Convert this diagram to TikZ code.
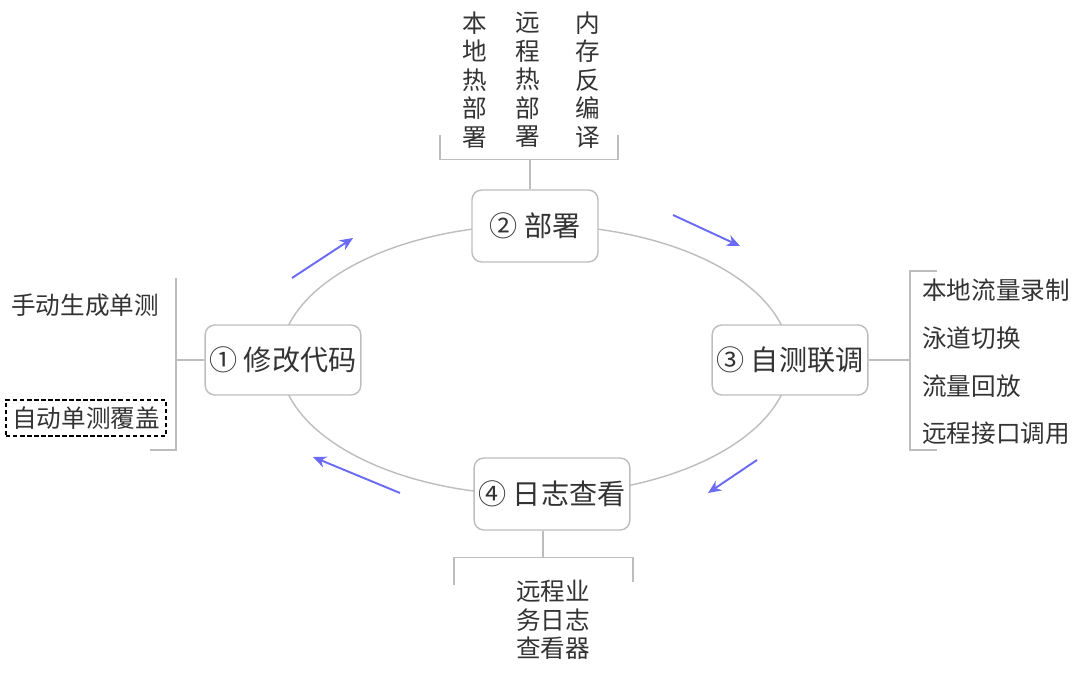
\documentclass[tikz,border=0pt]{standalone}
\usepackage{fontspec}
\setmainfont{Noto Sans CJK SC}
\usetikzlibrary{arrows.meta}
\definecolor{linegray}{HTML}{BDBDBD}
\definecolor{textgray}{HTML}{333333}
\definecolor{flowblue}{HTML}{6A6AF4}
\tikzset{
  stage/.style={draw=linegray, line width=0.8pt, fill=white, rounded corners=5.5pt,
    font=\fontsize{16}{19}\selectfont, inner xsep=2.5pt, inner ysep=0pt,
    minimum height=1.4cm, minimum width=2.5cm},
  leaf/.style={font=\fontsize{14}{16.3}\selectfont, inner sep=0pt, align=center},
  branch/.style={draw=linegray, line width=0.9pt},
  flow/.style={draw=flowblue, line width=1.1pt, -{Stealth[length=7.5pt,width=6.5pt]}}
}
\begin{document}
\begin{tikzpicture}[x=0.02cm, y=-0.02cm, text=textgray]
\useasboundingbox (0,0) rectangle (1080,676);
% cycle
\draw[linegray, line width=0.8pt] (535,360) ellipse [x radius=5.1cm, y radius=2.7cm];
\foreach \a/\b in {{292,278}/{353,238}, {673,215}/{740,246}, {757,460}/{708,493}, {400,493}/{313,457}}
  \draw[flow] (\a) -- (\b);
% stages
\node[stage] (code) at (283,360) {① 修改代码};
\node[stage, minimum width=2.52cm, minimum height=1.44cm] (deploy) at (535,226) {② 部署};
\node[stage] (debug) at (790,360) {③ 自测联调};
\node[stage, minimum height=1.44cm] (log) at (552,494) {④ 日志查看};
% deploy branch
\node[leaf] (hotlocal) at (475,80) {本\\地\\热\\部\\署};
\node[leaf] (hotremote) at (528,80) {远\\程\\热\\部\\署};
\node[leaf] (decomp) at (588,80) {内\\存\\反\\编\\译};
\draw[branch] ([xshift=-0.1cm]deploy.north) -- ++(0,-30) coordinate (dtop);
\draw[branch] (440,135) |- (dtop) -| (618,135);
% code branch
\node[leaf] (manual) at (85,305) {手动生成单测};
\node[leaf, draw=black, line width=0.8pt, dash pattern=on 2.5pt off 1.5pt,
  inner xsep=3.5pt, minimum height=0.72cm] (autotest) at (86,418) {自动单测覆盖};
\draw[branch] (code.west) -- ++(-27,0) coordinate (cleft);
\draw[branch] (150,450) -| (176,278);
% debug branch
\node[leaf, anchor=west] (record) at (922,290) {本地流量录制};
\node[leaf, anchor=west] (lane) at (922,338) {泳道切换};
\node[leaf, anchor=west] (replay) at (922,386) {流量回放};
\node[leaf, anchor=west] (remote) at (922,433) {远程接口调用};
\draw[branch] (debug.east) -- ++(40,0) coordinate (dright);
\draw[branch] (937,271) -| (910,450) -- (937,450);
% log branch
\node[leaf] (viewer) at (553,620) {远程业\\务日志\\查看器};
\draw[branch] ([xshift=-0.18cm]log.south) -- ++(0,27) coordinate (lbot);
\draw[branch] (454,585) |- (lbot) -| (633,582);
\end{tikzpicture}
\end{document}
